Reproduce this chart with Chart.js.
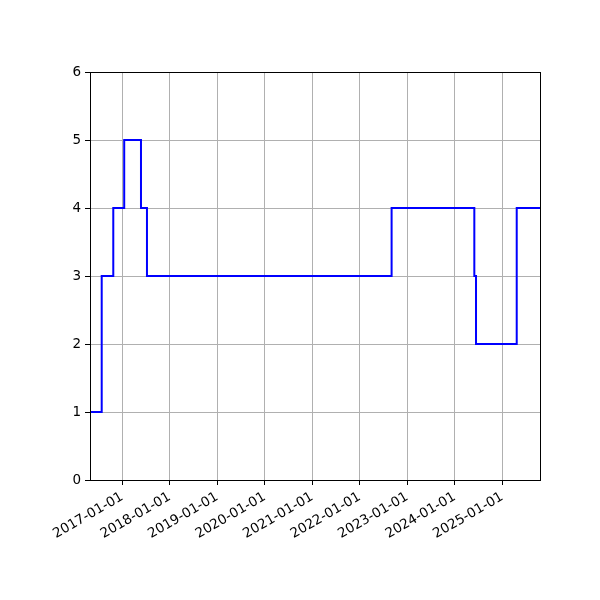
<!DOCTYPE html>
<html>
<head>
<meta charset="utf-8">
<script src="https://cdn.jsdelivr.net/npm/chart.js@4/dist/chart.umd.min.js"></script>
<style>
  html, body { margin: 0; padding: 0; background: #fff; }
  #wrap { width: 600px; height: 600px; }
</style>
</head>
<body>
<div id="wrap"><canvas id="chart"></canvas></div>
<script>
// change points of the step line (value holds until the next date)
var dates = ['2016-04-28','2016-07-27','2016-10-24','2017-01-16','2017-05-25','2017-07-10',
             '2022-09-03','2024-05-31','2024-06-13','2025-04-22','2025-10-18'];
var values = [1, 3, 4, 5, 4, 3, 4, 3, 2, 4, 4];
var tickLabels = ['2017-01-01','2018-01-01','2019-01-01','2020-01-01','2021-01-01',
                  '2022-01-01','2023-01-01','2024-01-01','2025-01-01'];

function ts(s) { return Date.parse(s + 'T00:00:00Z'); }

var points = dates.map(function (d, i) { return { x: ts(d), y: values[i] }; });

// black frame round the plot area, like matplotlib spines
var frame = {
  id: 'frame',
  afterDraw: function (chart) {
    var a = chart.chartArea, ctx = chart.ctx;
    ctx.save();
    ctx.strokeStyle = '#000';
    ctx.lineWidth = 1;
    ctx.strokeRect(a.left + 0.5, a.top + 0.5, a.right - a.left, a.bottom - a.top);
    ctx.restore();
  }
};

var canvas = document.getElementById('chart');
var config = {
  type: 'line',
  data: {
    datasets: [{
      data: points,
      stepped: 'before',
      borderColor: 'blue',
      borderWidth: 2,
      pointRadius: 0,
      fill: false
    }]
  },
  options: {
    responsive: true,
    maintainAspectRatio: false,
    animation: false,
    layout: { padding: { left: 0, top: 72, right: 60, bottom: 0 } },
    plugins: { legend: { display: false }, tooltip: { enabled: false } },
    scales: {
      x: {
        type: 'linear',
        min: ts(dates[0]),
        max: ts(dates[dates.length - 1]),
        afterBuildTicks: function (scale) {
          scale.ticks = tickLabels.map(function (t) { return { value: ts(t) }; });
        },
        afterFit: function (scale) { scale.height = 120; },
        ticks: {
          autoSkip: false,
          minRotation: 30,
          maxRotation: 30,
          padding: 4,
          color: '#000',
          font: { family: 'DejaVu Sans', size: 13.5 },
          callback: function (v) { return new Date(v).toISOString().slice(0, 10); }
        },
        grid: { color: '#b0b0b0', lineWidth: 1, tickColor: '#000', tickLength: 5 },
        border: { color: '#000' }
      },
      y: {
        min: 0,
        max: 6,
        afterFit: function (scale) { scale.width = 90; },
        ticks: {
          stepSize: 1,
          padding: 4,
          color: '#000',
          font: { family: 'DejaVu Sans', size: 13.5 }
        },
        grid: { color: '#b0b0b0', lineWidth: 1, tickColor: '#000', tickLength: 5 },
        border: { color: '#000' }
      }
    }
  },
  plugins: [frame]
};

var stepChart = new Chart(canvas, config);
</script>
</body>
</html>
